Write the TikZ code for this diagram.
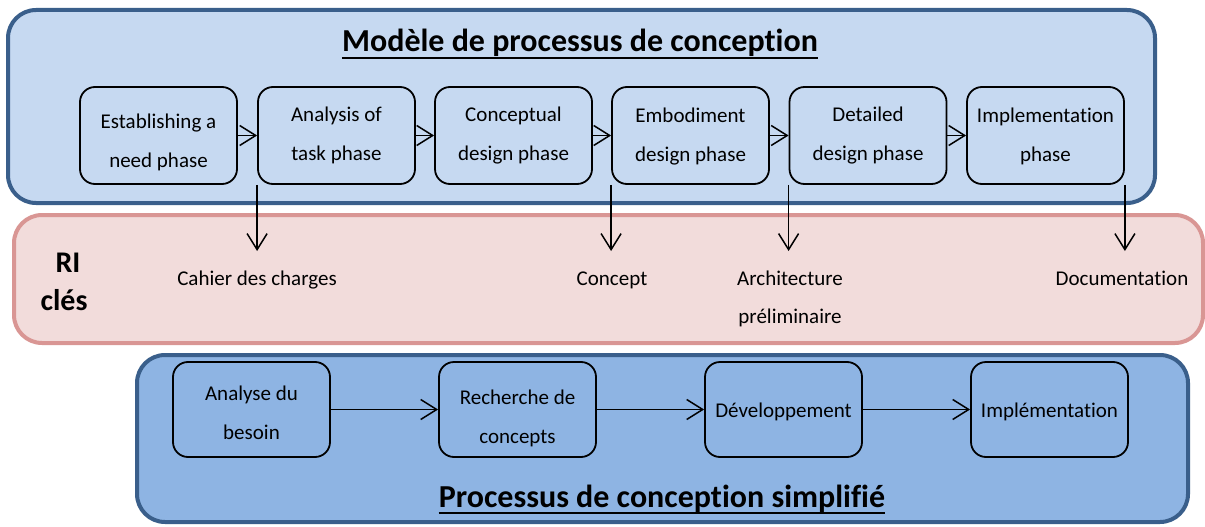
\documentclass[tikz,border=0pt]{standalone}
\usepackage{fontspec}
\setmainfont{Carlito}[Ligatures=NoCommon]
\usetikzlibrary{arrows.meta}
\definecolor{topfill}{HTML}{C6D9F1}
\definecolor{botfill}{HTML}{8EB4E3}
\definecolor{pinkfill}{HTML}{F2DCDB}
\definecolor{pinkline}{HTML}{D99694}
\definecolor{blueline}{HTML}{3A5F8B}
\tikzset{
  container/.style={line width=4pt, rounded corners=28pt},
  phasebox/.style={draw, line width=1.8pt, rounded corners=15pt,
    minimum width=157pt, minimum height=97pt, inner sep=0pt},
  simplebox/.style={phasebox, minimum height=95pt},
  boxtxt/.style={font=\fontsize{21}{39}\selectfont, align=center, inner sep=0pt},
  conn/.style={line width=1.5pt, -{Straight Barb[length=16pt,width=20pt]}},
  lbl/.style={font=\fontsize{21}{38}\selectfont, align=center, inner sep=0pt},
  titre/.style={font=\fontsize{32}{38}\selectfont\bfseries, inner sep=0pt, anchor=base},
  ri/.style={font=\fontsize{30}{36}\selectfont\bfseries, inner sep=0pt}
}
\begin{document}
\begin{tikzpicture}[x=1pt,y=-1pt]
\useasboundingbox (0,0) rectangle (1205,527);
% containers
\draw[container, draw=blueline, fill=topfill] (8,10) rectangle (1155,203);
\draw[container, draw=pinkline, fill=pinkfill] (14,215) rectangle (1203,343);
\draw[container, draw=blueline, fill=botfill] (137,355) rectangle (1188,522);
% titles
\node[titre] (t1) at (580,52) {Modèle de processus de conception};
\draw[line width=2pt] ([yshift=-6pt]t1.base west) -- ([yshift=-6pt]t1.base east);
\node[titre] (t2) at (662,507) {Processus de conception simplifié};
\draw[line width=2pt] ([yshift=-6pt]t2.base west) -- ([yshift=-6pt]t2.base east);
% top boxes
\node[phasebox, label={[boxtxt, yshift=-7pt]center:{Establishing a\\need phase}}] (b1) at (158.5,135.5) {};
\node[phasebox, label={[boxtxt]center:{Analysis of\\task phase}}] (b2) at (336.5,135.5) {};
\node[phasebox, label={[boxtxt]center:{Conceptual\\design phase}}] (b3) at (513.5,135.5) {};
\node[phasebox, label={[boxtxt, yshift=-1pt]center:{Embodiment\\design phase}}] (b4) at (690.5,135.5) {};
\node[phasebox, label={[boxtxt]center:{Detailed\\design phase}}] (b5) at (868,135.5) {};
\node[phasebox, label={[boxtxt, yshift=-1pt]center:{Implementation\\phase}}] (b6) at (1045.5,135.5) {};
\draw[conn] (b1) -- (b2);
\draw[conn] (b2) -- (b3);
\draw[conn] (b3) -- (b4);
\draw[conn] (b4) -- (b5);
\draw[conn] (b5) -- (b6);
% RI cles
\node[ri] (ri) at (68,263) {RI};
\node[ri] (cles) at (64,300) {clés};
\node[lbl] (l1) at (257,280) {Cahier des charges};
\node[lbl] (l2) at (612,280) {Concept};
\node[lbl] (l3) at (790,299) {Architecture\\préliminaire};
\node[lbl] (l4) at (1122,278) {Documentation};
\coordinate (lvl) at (0,251);
\draw[conn] (b2.south west) -- (b2.south west |- lvl);
\draw[conn] (b4.south west) -- (b4.south west |- lvl);
\draw[conn] (b5.south west) -- (b5.south west |- lvl);
\draw[conn] (b6.south east) -- (b6.south east |- lvl);
% bottom boxes
\node[simplebox, label={[boxtxt, yshift=-3pt]center:{Analyse du\\besoin}}] (s1) at (251.5,409.5) {};
\node[simplebox, label={[boxtxt, yshift=-9pt]center:{Recherche de\\concepts}}] (s2) at (517.5,409.5) {};
\node[simplebox, label={[boxtxt, yshift=-2pt]center:{Développement}}] (s3) at (783.5,409.5) {};
\node[simplebox, label={[boxtxt, yshift=-2pt]center:{Implémentation}}] (s4) at (1049.5,409.5) {};
\draw[conn] (s1) -- (s2);
\draw[conn] (s2) -- (s3);
\draw[conn] (s3) -- (s4);
\end{tikzpicture}
\end{document}
